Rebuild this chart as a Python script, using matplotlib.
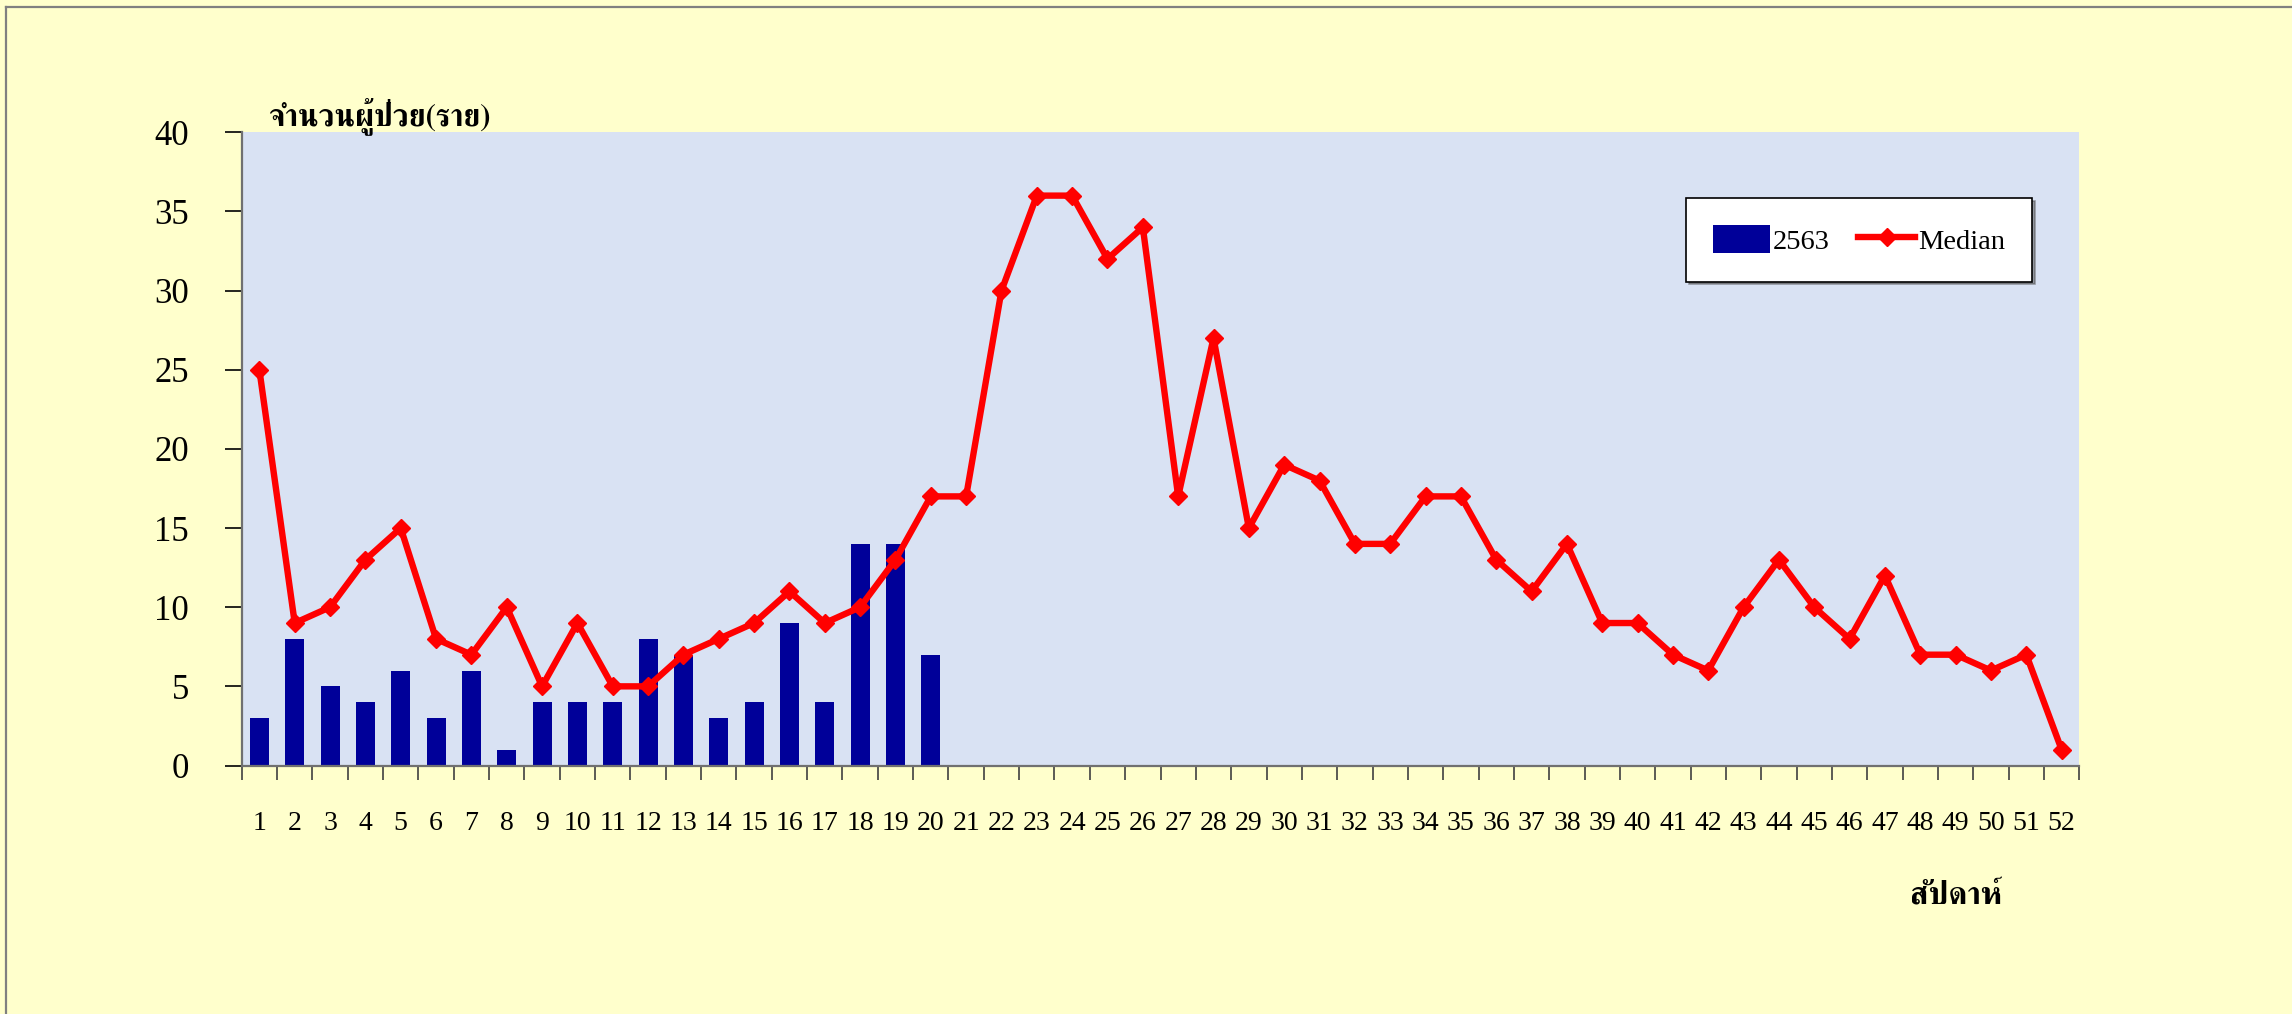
import numpy as np
import matplotlib
matplotlib.use("Agg")
import matplotlib.pyplot as plt
from matplotlib import font_manager, ft2font
from matplotlib.lines import Line2D


# --- data ---
weeks = list(range(1, 53))
cases_2563 = [3, 8, 5, 4, 6, 3, 6, 1, 4, 4, 4, 8, 7, 3, 4, 9, 4, 14, 14, 7]
median = [25, 9, 10, 13, 15, 8, 7, 10, 5, 9, 5, 5, 7, 8, 9, 11, 9, 10, 13, 17,
          17, 30, 36, 36, 32, 34, 17, 27, 15, 19, 18, 14, 14, 17, 17, 13, 11, 14, 9, 9,
          7, 6, 10, 13, 10, 8, 12, 7, 7, 6, 7, 1]
y_title = "จำนวนผู้ป่วย(ราย)"
x_title = "สัปดาห์"


def find_thai_font():
    # any installed font with Thai glyphs; prefer bold, then serif
    found = []
    for f in font_manager.fontManager.ttflist:
        try:
            cmap = ft2font.FT2Font(f.fname).get_charmap()
        except Exception:
            continue
        if 0x0E08 in cmap and 0x0E1C in cmap:
            w = f.weight if isinstance(f.weight, int) else 400
            score = 0
            if w >= 600:
                score += 4
            if "serif" in f.name.lower() and "sans" not in f.name.lower():
                score += 2
            found.append((score, f.name, f.fname))
    if not found:
        return None
    found.sort(reverse=True)
    return found[0]


thai = find_thai_font()
serif = "Liberation Serif"
if thai:
    font_manager.fontManager.addfont(thai[2])
    thai_fam = [thai[1], serif, "DejaVu Sans"]
else:
    thai_fam = [serif, "DejaVu Sans"]

plt.rcParams["font.family"] = [serif, "DejaVu Sans"]

W, H = 2292, 1014
fig = plt.figure(figsize=(W / 100, H / 100), dpi=100, facecolor="#FFFFCC")
ax = fig.add_axes([241.7 / W, 1 - 765.5 / H, 1837.6 / W, 633.2 / H])
ax.set_facecolor("#D9E2F3")

bars = ax.bar(weeks[:len(cases_2563)], cases_2563, width=0.54, color="#000099",
              label="2563", zorder=2)
line, = ax.plot(weeks, median, color="#FF0000", linewidth=4.6, marker="D",
                markersize=9.5, label="Median", zorder=3)

ax.set_xlim(0.5, 52.5)
ax.set_ylim(0, 40)
ax.set_yticks(range(0, 41, 5))
ax.set_xticks(weeks)
ax.set_xticks(np.arange(0.5, 53, 1), minor=True)
ax.tick_params(axis="x", which="major", length=0, pad=33, labelsize=20)
ax.tick_params(axis="x", which="minor", length=10, width=1.2, color="#404040")
ax.tick_params(axis="y", length=12, width=1.2, pad=26, labelsize=25)

for s in ["top", "right"]:
    ax.spines[s].set_visible(False)
for s in ["left", "bottom"]:
    ax.spines[s].set_color("#707070")
    ax.spines[s].set_linewidth(1.6)

leg = ax.legend([bars, line], ["2563", "Median"], loc="upper left",
                bbox_to_anchor=(0.786, 0.896), ncol=2, fontsize=20.5,
                frameon=True, fancybox=False, shadow=True, borderaxespad=0,
                handlelength=2.0, handleheight=1.1, handletextpad=0.1,
                columnspacing=1.0, borderpad=0.95)
leg.get_frame().set_edgecolor("black")
leg.get_frame().set_linewidth(1.2)
leg.get_frame().set_facecolor("white")

fig.text(379.5 / W, 1 - 116 / H, y_title, ha="center", va="center",
         fontsize=22, fontweight="bold", family=thai_fam)
fig.text(1956 / W, 1 - 896 / H, x_title, ha="center", va="center",
         fontsize=23, fontweight="bold", family=thai_fam)

# outer chart border (left and top only are visible)
fig.add_artist(Line2D([6 / W, 6 / W], [0, 1 - 7 / H], transform=fig.transFigure,
                      color="#808080", linewidth=1.6))
fig.add_artist(Line2D([6 / W, 1], [1 - 7 / H, 1 - 7 / H], transform=fig.transFigure,
                      color="#808080", linewidth=1.6))

fig.savefig("out.png", dpi=100, facecolor=fig.get_facecolor())
